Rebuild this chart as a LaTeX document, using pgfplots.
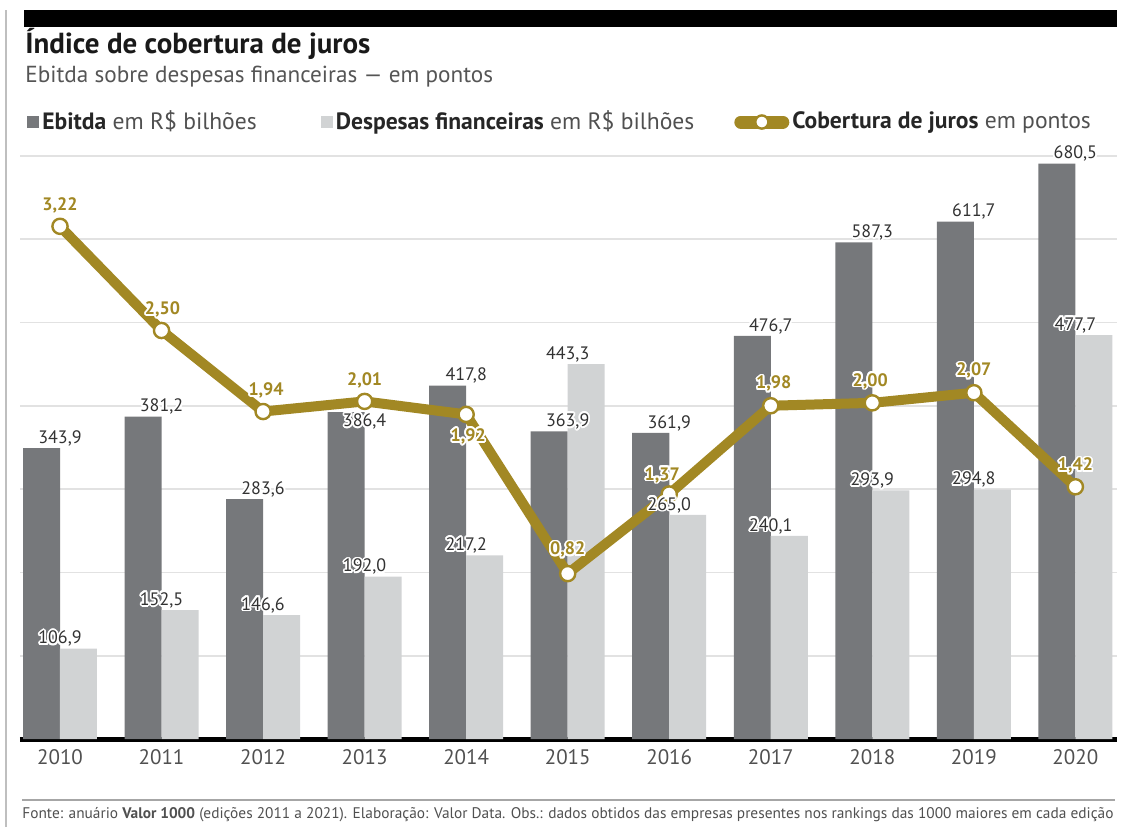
\documentclass[border=0pt]{standalone}
\usepackage{fontspec}
\setmainfont{PT Sans}
\usepackage{graphicx}
\usepackage[copies]{contour}
\contourlength{0.9pt}
\contournumber{16}
\usepackage{pgfplots}
\usepackage{pgfplotstable}
\pgfplotsset{compat=1.18}
\definecolor{darkbar}{RGB}{118,120,123}
\definecolor{lightbar}{RGB}{209,211,212}
\definecolor{gold}{RGB}{162,136,36}
\definecolor{gridc}{RGB}{226,226,226}
\definecolor{labtext}{RGB}{50,50,50}
\definecolor{subtext}{RGB}{85,85,85}
\definecolor{legtext}{RGB}{80,80,80}

\pgfplotstableread{
x v dy
0 343.9 4.5
1 381.2 4.5
2 283.6 4.5
3 386.4 -5
4 417.8 4.5
5 363.9 4.5
6 361.9 4.5
7 476.7 4.5
8 587.3 4.5
9 611.7 4.5
10 680.5 4.5
}\ebitda

\pgfplotstableread{
x v dy
0 106.9 4.5
1 152.5 4.5
2 146.6 4.5
3 192.0 4.5
4 217.2 4.5
5 443.3 4.5
6 265.0 4.5
7 240.1 4.5
8 293.9 4.5
9 294.8 4.5
10 477.7 4.5
}\desp

\pgfplotstableread{
x v dx dy
0 3.22 0 10
1 2.50 0.5 10
2 1.94 1.5 10
3 2.01 0 10
4 1.92 1 -11.5
5 0.82 0 11.5
6 1.37 -3.5 9
7 1.98 1.5 10.5
8 2.00 -1 10.5
9 2.07 0 10.5
10 1.42 0 10
}\cob

\pgfplotsset{
  barlab/.style={
    point meta=y,
    visualization depends on={\thisrow{dy}\as\dy},
    nodes near coords={\contour{white}{\pgfmathprintnumber[fixed,fixed zerofill,precision=1,use comma,assume math mode=true]{\pgfplotspointmeta}}},
    every node near coord/.append style={anchor=center, yshift=\dy pt, font=\fontsize{9}{10}\selectfont, text=labtext}},
  frame/.style={at={(10pt,44pt)}, anchor=south west, scale only axis,
    width=548.5pt, height=296pt, xmin=-0.394, xmax=10.41},
}

\begin{document}
\begin{tikzpicture}
\path[use as bounding box] (0pt,0pt) rectangle (561pt,413.5pt);
\draw[black!25, line width=1pt] (3pt,0pt) -- (3pt,408.5pt);
\fill[black] (12pt,408.5pt) rectangle (558.5pt,400pt);
\node[anchor=base west, inner sep=0pt, text=black!90] at (12.5pt,387pt) {\fontsize{14.5}{16}\selectfont\bfseries Índice de cobertura de juros};
\node[anchor=base west, inner sep=0pt, text=subtext] at (12.5pt,372.5pt) {\fontsize{11.6}{13}\selectfont Ebitda sobre despesas financeiras — em pontos};

% bars, grid, axis line, legend
\begin{axis}[frame, ymin=0, ymax=700,
  axis x line*=bottom, axis y line*=left,
  x axis line style={line width=2.5pt, black, -},
  y axis line style={draw=none},
  ytick={98.5,197,295.5,394,492.5,591,689.5}, yticklabels={},
  ymajorgrids, grid style={line width=0.8pt, gridc},
  major tick length=0pt,
  xtick={0,1,2,3,4,5,6,7,8,9,10},
  xticklabels={2010,2011,2012,2013,2014,2015,2016,2017,2018,2019,2020},
  xticklabel style={anchor=center, yshift=-9pt, font=\fontsize{10.5}{12}\selectfont, text=legtext},
  legend columns=3,
  legend cell align=left,
  legend style={at={(axis description cs:0.0064,1.0422)}, anchor=west, draw=none, fill=none, inner sep=0pt,
    font=\fontsize{11.8}{13}\selectfont, text=legtext,
    /tikz/every even column/.append style={column sep=0pt},
    nodes={inner xsep=1.5pt, inner ysep=0pt}},
]
\addplot[ybar, bar width=0.3645, bar shift=-0.182, fill=darkbar, draw=none,
  legend image code/.code={\fill[darkbar] (0pt,-3pt) rectangle (6pt,3pt);}]
  table[x=x,y=v]{\ebitda};
\addlegendentry{\textcolor{black!85}{\bfseries Ebitda} em R\$ bilhões\rule{30.5pt}{0pt}}
\addplot[ybar, bar width=0.3645, bar shift=0.182, fill=lightbar, draw=none,
  legend image code/.code={\fill[lightbar] (0pt,-3pt) rectangle (6pt,3pt);}]
  table[x=x,y=v]{\desp};
\addlegendentry{\textcolor{black!85}{\bfseries Despesas financeiras} em R\$ bilhões\rule{18.5pt}{0pt}}
\addlegendimage{legend image code/.code={\draw[gold, line width=6.5pt, line cap=round] (3.25pt,0pt) -- (24.25pt,0pt); \draw[gold, fill=white, line width=1.2pt] (13.75pt,0pt) circle (3.3pt);}}
\addlegendentry{\textcolor{black!85}{\bfseries Cobertura de juros} em pontos}
\end{axis}

% coverage line
\begin{axis}[frame, ymin=-0.323, ymax=3.768, hide axis]
\addplot[gold, line width=5pt, line join=round, mark=*, mark size=3.8pt,
  mark options={solid, fill=white, draw=gold, line width=1.2pt}]
  table[x=x,y=v]{\cob};
\addplot[draw=none, mark=none,
  point meta=y,
  visualization depends on={\thisrow{dx}\as\dx},
  visualization depends on={\thisrow{dy}\as\dy},
  nodes near coords={\contour{white}{\pgfmathprintnumber[fixed,fixed zerofill,precision=2,use comma,assume math mode=true]{\pgfplotspointmeta}}},
  every node near coord/.append style={anchor=center, xshift=\dx pt, yshift=\dy pt, font=\fontsize{9}{10}\selectfont\bfseries, text=gold}]
  table[x=x,y=v]{\cob};
\end{axis}

% bar value labels on top
\begin{axis}[frame, ymin=0, ymax=700, hide axis]
\addplot[ybar, bar width=0.3645, bar shift=-0.182, draw=none, fill=none, barlab]
  table[x=x,y=v]{\ebitda};
\addplot[ybar, bar width=0.3645, bar shift=0.182, draw=none, fill=none, barlab]
  table[x=x,y=v]{\desp};
\end{axis}

\draw[black!35, line width=0.8pt] (11pt,13.5pt) -- (557.5pt,13.5pt);
\node[anchor=west, inner sep=0pt, text=legtext] at (11pt,6pt) {\resizebox{545.5pt}{!}{\fontsize{6.5}{7}\selectfont Fonte: anuário \textbf{Valor 1000} (edições 2011 a 2021). Elaboração: Valor Data. Obs.: dados obtidos das empresas presentes nos rankings das 1000 maiores em cada edição}};
\end{tikzpicture}
\end{document}
